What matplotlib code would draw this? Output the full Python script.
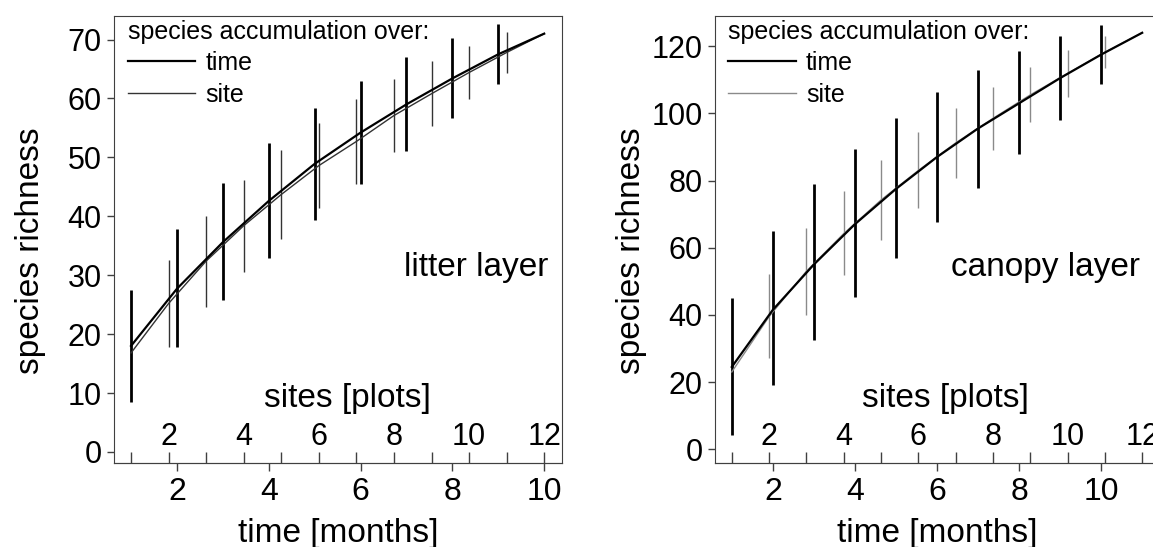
import numpy as np
import matplotlib.pyplot as plt

plt.rcParams['font.family'] = ['Liberation Sans', 'DejaVu Sans']
plt.rcParams['axes.edgecolor'] = '#404040'
plt.rcParams['xtick.color'] = '#404040'
plt.rcParams['ytick.color'] = '#404040'
plt.rcParams['xtick.labelcolor'] = 'black'
plt.rcParams['ytick.labelcolor'] = 'black'

# litter layer: accumulation over time (months 1-10) and over sites (plots 1-12)
litter_months = [1, 2, 3, 4, 5, 6, 7, 8, 9, 10]
litter_time_mean = [18.0, 27.7, 35.6, 42.6, 48.9, 54.2, 59.0, 63.4, 67.5, 71.0]
litter_time_lo = [8.5, 17.8, 25.8, 32.9, 39.4, 45.5, 51.1, 56.7, 62.5]
litter_time_hi = [27.5, 37.9, 45.7, 52.5, 58.4, 63.0, 67.1, 70.3, 72.7]
litter_sites = [1, 2, 3, 4, 5, 6, 7, 8, 9, 10, 11, 12]
litter_site_mean = [16.8, 25.2, 32.4, 38.4, 43.7, 48.6, 52.7, 57.1, 60.8, 64.4, 67.8, 71.0]
litter_site_lo = [17.8, 24.6, 30.6, 36.1, 41.4, 45.5, 50.9, 55.3, 59.9, 64.4]
litter_site_hi = [32.6, 40.1, 46.2, 51.3, 55.9, 59.9, 63.3, 66.4, 68.9, 71.3]

# canopy layer: months 1-11, sites 1-12
canopy_months = [1, 2, 3, 4, 5, 6, 7, 8, 9, 10, 11]
canopy_time_mean = [24.5, 41.5, 55.0, 67.0, 77.5, 87.0, 95.5, 103.0, 110.5, 117.5, 124.0]
canopy_time_lo = [4.3, 19.2, 32.5, 45.3, 56.9, 67.7, 77.7, 87.9, 98.0, 108.7]
canopy_time_hi = [45.0, 65.0, 79.0, 89.4, 98.6, 106.3, 112.9, 118.5, 123.0, 126.3]
canopy_sites = [1, 2, 3, 4, 5, 6, 7, 8, 9, 10, 11, 12]
canopy_site_mean = [23.0, 39.5, 53.0, 64.2, 74.2, 83.0, 91.2, 98.5, 105.5, 111.9, 118.2, 124.0]
canopy_site_lo = [27.2, 40.0, 52.0, 62.3, 71.8, 80.8, 89.1, 97.4, 104.9, 113.5]
canopy_site_hi = [52.2, 65.9, 76.9, 86.1, 94.4, 101.6, 107.8, 113.8, 118.8, 123.0]

month_ticks = [2, 4, 6, 8, 10]
site_ticks = [1, 2, 3, 4, 5, 6, 7, 8, 9, 10, 11, 12]
site_labels = ['', '2', '', '4', '', '6', '', '8', '', '10', '', '12']


def draw(ax, months, t_mean, t_lo, t_hi, sites, s_mean, s_lo, s_hi,
         site_col, yticks, xlim, ylim, name, name_x):
    n_m = len(months)
    n_s = len(sites)

    def s2t(s):
        return 1 + (np.asarray(s, dtype=float) - 1) * (n_m - 1) / (n_s - 1)

    def t2s(t):
        return 1 + (np.asarray(t, dtype=float) - 1) * (n_s - 1) / (n_m - 1)

    ax.set_xlim(*xlim)
    ax.set_ylim(*ylim)

    # error bars
    ax.vlines(months[:len(t_lo)], t_lo, t_hi, color='black', lw=2.0)
    ax.vlines(s2t(sites[1:1 + len(s_lo)]), s_lo, s_hi, color=site_col, lw=1.0)

    # curves
    ax.plot(s2t(sites), s_mean, color=site_col, lw=1.0, label='site', zorder=3)
    ax.plot(months, t_mean, color='black', lw=1.6, label='time', zorder=4)

    h, l = ax.get_legend_handles_labels()
    ax.legend(h[::-1], l[::-1], title='species accumulation over:',
              loc='upper left', bbox_to_anchor=(0.022, 1.0), frameon=False,
              fontsize=18, title_fontsize=18, alignment='left',
              handlelength=2.7, handletextpad=0.4, labelspacing=0.3,
              borderpad=0.05, borderaxespad=0.1)

    ax.set_xticks(month_ticks)
    ax.set_yticks(yticks)
    ax.tick_params(axis='y', direction='out', length=5, width=1, labelsize=22, pad=4)
    ax.tick_params(axis='x', direction='out', length=6, width=1, labelsize=23, pad=4)

    ax.set_xlabel('time [months]', fontsize=24)
    ax.xaxis.set_label_coords(0.5, -0.122)
    ax.set_ylabel('species richness', fontsize=24)
    ax.yaxis.set_label_coords(-0.152, 0.475)

    sec = ax.secondary_xaxis(0.0, functions=(t2s, s2t))
    sec.set_alignment('top')
    sec.set_xticks(site_ticks, labels=site_labels)
    sec.tick_params(axis='x', direction='out', length=8, width=1, labelsize=22, pad=0)
    sec.set_xlabel('sites [plots]', fontsize=24, labelpad=11)
    sec.xaxis.label.set_x(0.52)

    ax.text(name_x, 0.437, name, transform=ax.transAxes, ha='right',
            va='center', fontsize=24)


fig = plt.figure(figsize=(11.53, 5.47), dpi=100)
ax1 = fig.add_axes([0.0989, 0.1536, 0.3886, 0.8172])
ax2 = fig.add_axes([0.6201, 0.1536, 0.3851, 0.8172])

draw(ax1, litter_months, litter_time_mean, litter_time_lo, litter_time_hi,
     litter_sites, litter_site_mean, litter_site_lo, litter_site_hi,
     '#333333', [0, 10, 20, 30, 40, 50, 60, 70], (0.63, 10.39), (-1.87, 74.0),
     'litter layer', 0.969)
draw(ax2, canopy_months, canopy_time_mean, canopy_time_lo, canopy_time_hi,
     canopy_sites, canopy_site_mean, canopy_site_lo, canopy_site_hi,
     '#8a8a8a', [0, 20, 40, 60, 80, 100, 120], (0.59, 11.41), (-4.1, 129.0),
     'canopy layer', 0.957)

fig.savefig('out.png', dpi=100)
